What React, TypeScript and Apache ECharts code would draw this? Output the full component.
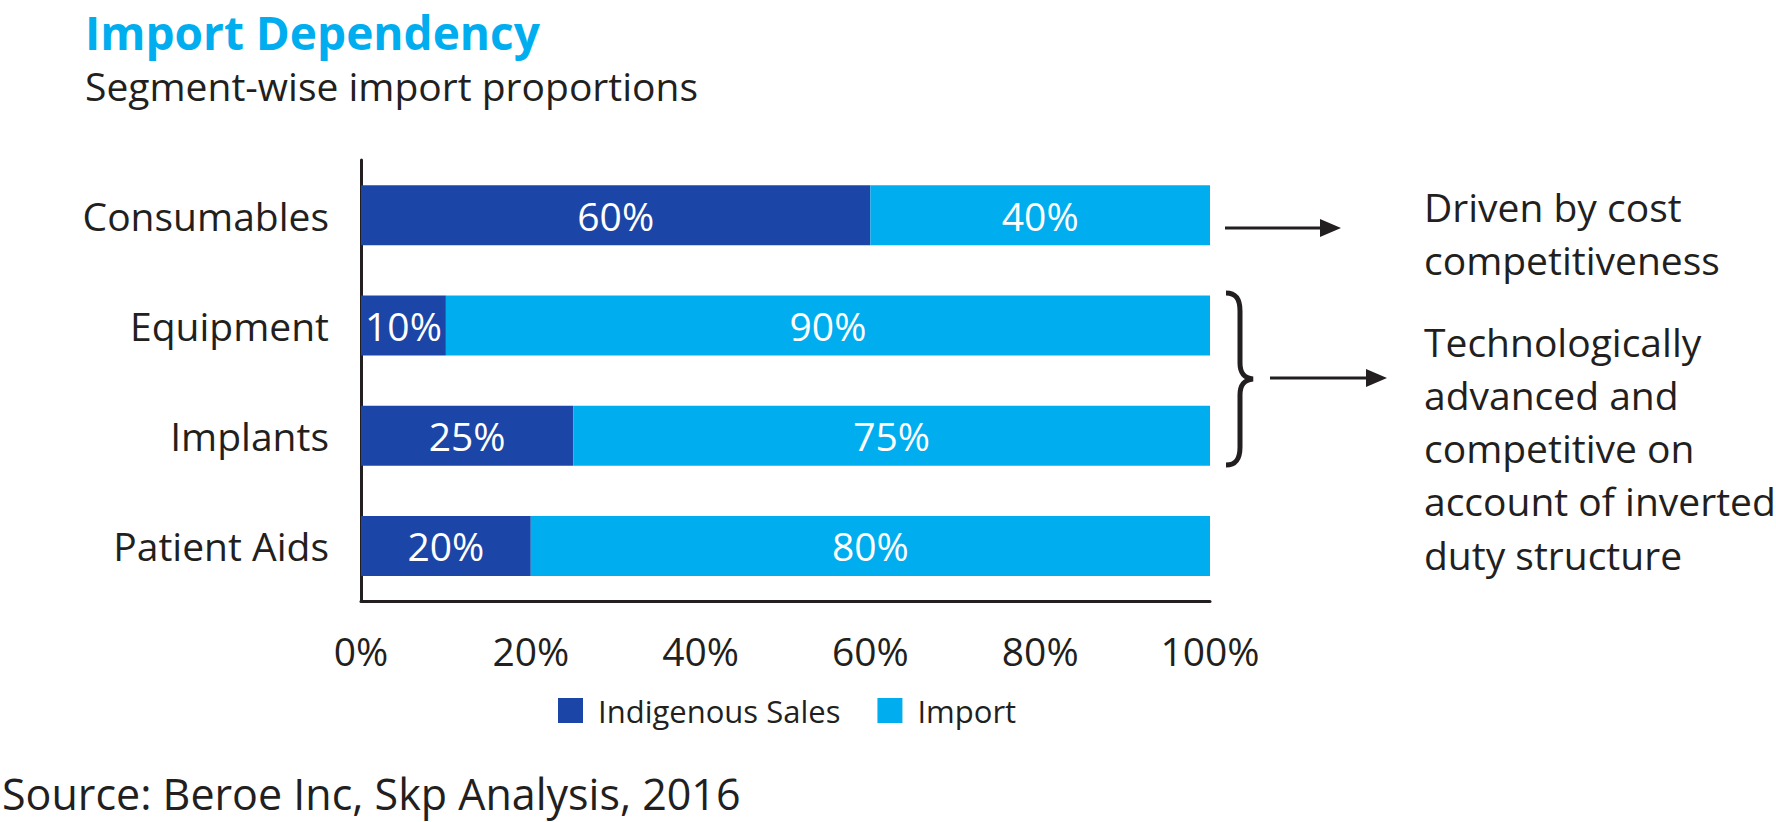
import React, { useEffect, useRef } from "react";
import * as echarts from "echarts";

const categories = ["Consumables", "Equipment", "Implants", "Patient Aids"];
const indigenousSales = [60, 10, 25, 20];
const importShare = [40, 90, 75, 80];
const seriesNames = ["Indigenous Sales", "Import"];
const titleText = "Import Dependency";
const subtitleText = "Segment-wise import proportions";
const sourceText = "Source: Beroe Inc, Skp Analysis, 2016";
const noteCost = ["Driven by cost", "competitiveness"];
const noteTech = [
  "Technologically",
  "advanced and",
  "competitive on",
  "account of inverted",
  "duty structure",
];

const DARK = "#1B46A7";
const LIGHT = "#00AEEF";
const TEXT = "#231F20";
const FONT = "'Open Sans', 'Noto Sans', sans-serif";

const BRACE_D =
  "M2,2 C12,2 16,8 16,20 L16,72 C16,82 20,87 29,88 C20,89 16,94 16,104 L16,156 C16,168 12,174 2,174";

let braceRegistered = false;

export default function App() {
  const ref = useRef<HTMLDivElement>(null);

  useEffect(() => {
    if (!ref.current) return;
    if (!braceRegistered) {
      echarts.graphic.registerShape("brace", echarts.graphic.extendPath(BRACE_D, {}));
      braceRegistered = true;
    }
    const chart = echarts.init(ref.current, undefined, { renderer: "svg" });

    const textEl = (
      text: string,
      x: number,
      y: number,
      fontSize: number,
      color: string,
      weight = "normal"
    ) => ({
      type: "text",
      x,
      y,
      style: {
        text,
        fontSize,
        lineHeight: fontSize,
        fontFamily: FONT,
        fontWeight: weight,
        fill: color,
        align: "left",
        verticalAlign: "middle",
      },
    });

    const graphics: any[] = [
      textEl(titleText, 85, 32, 46, LIGHT, "bold"),
      textEl(subtitleText, 85, 85, 39, TEXT),
      textEl(sourceText, 2, 793, 43, TEXT),
      // arrow 1
      { type: "line", shape: { x1: 1225, y1: 228, x2: 1324, y2: 228 }, style: { stroke: TEXT, lineWidth: 3 } },
      { type: "polygon", shape: { points: [[1320, 219], [1341, 228], [1320, 237]] }, style: { fill: TEXT } },
      // brace
      { type: "brace", x: 1224, y: 291, style: { fill: "none", stroke: TEXT, lineWidth: 5 } },
      // arrow 2
      { type: "line", shape: { x1: 1270, y1: 378, x2: 1370, y2: 378 }, style: { stroke: TEXT, lineWidth: 3 } },
      { type: "polygon", shape: { points: [[1366, 369], [1387, 378], [1366, 387]] }, style: { fill: TEXT } },
    ];
    noteCost.forEach((t, i) => graphics.push(textEl(t, 1424, 206 + i * 53, 39, TEXT)));
    noteTech.forEach((t, i) => graphics.push(textEl(t, 1424, 341 + i * 53.3, 39, TEXT)));

    const barLabel = {
      show: true,
      position: "inside",
      color: "#ffffff",
      fontSize: 39,
      fontFamily: FONT,
      formatter: "{c}%",
    };

    chart.setOption({
      animation: false,
      textStyle: { fontFamily: FONT },
      grid: { left: 361, right: 566, top: 160, height: 441, containLabel: false },
      legend: {
        data: seriesNames,
        left: 553,
        top: 690,
        icon: "rect",
        itemWidth: 25,
        itemHeight: 25,
        itemGap: 37,
        textStyle: { fontSize: 31, color: TEXT, fontFamily: FONT, padding: [0, 0, 0, 10] },
      },
      xAxis: {
        type: "value",
        min: 0,
        max: 100,
        interval: 20,
        axisLine: { show: true, lineStyle: { color: TEXT, width: 3 } },
        axisTick: { show: false },
        splitLine: { show: false },
        axisLabel: { formatter: "{value}%", fontSize: 39, color: TEXT, fontFamily: FONT, margin: 30 },
      },
      yAxis: {
        type: "category",
        data: categories,
        inverse: true,
        axisLine: { show: true, lineStyle: { color: TEXT, width: 3 } },
        axisTick: { show: false },
        axisLabel: { fontSize: 39, color: TEXT, fontFamily: FONT, margin: 32 },
      },
      series: [
        {
          name: seriesNames[0],
          type: "bar",
          stack: "total",
          barWidth: 60,
          data: indigenousSales,
          itemStyle: { color: DARK },
          label: barLabel,
        },
        {
          name: seriesNames[1],
          type: "bar",
          stack: "total",
          barWidth: 60,
          data: importShare,
          itemStyle: { color: LIGHT },
          label: barLabel,
        },
      ],
      graphic: graphics,
    });

    return () => chart.dispose();
  }, []);

  return (
    <div
      ref={ref}
      style={{ position: "fixed", left: 0, top: 0, width: 1776, height: 822, background: "#ffffff" }}
    />
  );
}
